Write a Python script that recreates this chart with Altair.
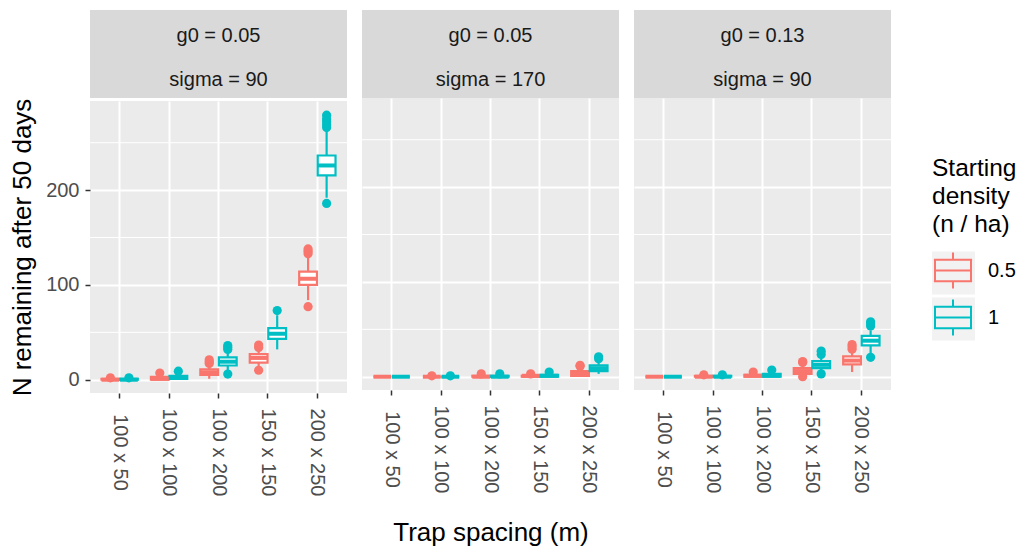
import altair as alt
import pandas as pd

FONT = "Liberation Sans"

SPACING = ["100 x 50", "100 x 100", "100 x 200", "150 x 150", "200 x 250"]
DENSITY = ["0.5", "1"]
G0_LABELS = ["g0 = 0.05", "g0 = 0.05", "g0 = 0.13"]
SIGMA_LABELS = ["sigma = 90", "sigma = 170", "sigma = 90"]
COLORS = ["#F8766D", "#00BFC4"]

Y_TICKS = [0, 100, 200]
Y_MINOR = [50, 150, 250]

# indexed [panel][density][spacing]
WHISKER_LO = [
    [[0, 0, 1, 14, 84], [0, 0, 9, 32, 192]],
    [[0, 0, 0, 0, 0], [0, 0, 0, 0, 3]],
    [[0, 0, 0, 1, 5], [0, 0, 0, 6, 25]],
]
Q1 = [
    [[0, 0, 5, 18, 100], [0, 1, 15, 43, 215.5]],
    [[0, 0, 0, 0, 1], [0, 0, 0, 0, 6]],
    [[0, 0, 0, 3, 13], [0, 0, 0, 9, 33]],
]
MEDIAN = [
    [[0, 1, 8, 23, 106.5], [0, 2, 19, 48.5, 226]],
    [[0, 0, 0, 1, 3], [0, 0, 0, 1, 9]],
    [[0, 0, 1, 6, 17], [0, 0, 1, 12.5, 38]],
]
Q3 = [
    [[1, 3, 11, 27, 114], [1, 4, 23.5, 54.5, 236.5]],
    [[0, 0, 1, 1, 6], [0, 0, 1, 2, 12]],
    [[0, 1, 2, 9, 21.5], [0, 1, 3, 16.5, 43]],
]
WHISKER_HI = [
    [[1, 5, 15, 32, 130], [1, 7, 30, 68, 263]],
    [[0, 0, 2, 2, 9], [0, 0, 2, 4, 16]],
    [[0, 1, 4, 13, 26], [0, 1, 5, 21, 49]],
]
OUTLIERS = [
    [[[2], [7], [17, 19, 21], [10, 34, 36.5], [77, 133, 135.5, 138]],
     [[2], [9], [6, 32, 34, 36], [73], [186, 266, 269, 272, 275, 279]]],
    [[[], [1], [3], [3], [11, 12]],
     [[], [1], [3], [5], [19, 21]]],
    [[[], [2], [5], [0, 15, 16], [29, 31.5, 34]],
     [[], [2], [7], [3, 23.5, 27], [20.5, 53.5, 56, 58]]],
]

stat_rows, out_rows = [], []
for p in range(3):
    for d, dens in enumerate(DENSITY):
        for s, sp in enumerate(SPACING):
            stat_rows.append(dict(panel=p, spacing=sp, density=dens,
                                  lo=WHISKER_LO[p][d][s], q1=Q1[p][d][s],
                                  med=MEDIAN[p][d][s], q3=Q3[p][d][s],
                                  hi=WHISKER_HI[p][d][s]))
            for v in OUTLIERS[p][d][s]:
                out_rows.append(dict(panel=p, spacing=sp, density=dens, value=v))
stats = pd.DataFrame(stat_rows)
outs = pd.DataFrame(out_rows)
minor = pd.DataFrame({"v": Y_MINOR})
KEY_DOMAIN = ["k" + d for d in DENSITY]
keys = pd.DataFrame({"key": KEY_DOMAIN})

W, H, STRIP_H = 257, 292, 88
STEP = W / 5.2
BOX_W = STEP * 0.36

XSCALE = alt.Scale(domain=SPACING, paddingInner=0, paddingOuter=0.1)
OFFSCALE = alt.Scale(domain=DENSITY, paddingInner=0.04, paddingOuter=0.353)
YSCALE = alt.Scale(domain=[-14, 294], nice=False, zero=False)
CSCALE = alt.Scale(domain=DENSITY, range=COLORS)

LEG_X, LEG_Y = 842, 147
LEG_TITLE = ["Starting", "density", "(n / ha)"]
LEG_COMMON = dict(title=LEG_TITLE, orient="none", legendX=LEG_X, legendY=LEG_Y,
                  titleFontSize=24.5, titleLineHeight=28, titleFont=FONT,
                  titleFontWeight="normal", titlePadding=14, labelFont=FONT,
                  rowPadding=3)

# legend glyph: box outline + median + whiskers, drawn as separate segments
e = 0.06
BOX_PATH = (f"M{-1 - e},-0.6H{1 + e} M1,-0.6V0.6 M{1 + e},0.6H{-1 - e} M-1,0.6V-0.6 "
            "M-1,0H1 M0,-0.6V-1 M0,0.6V1")
LEGEND = alt.Legend(symbolType=BOX_PATH, symbolSize=1296, symbolStrokeWidth=2,
                    symbolOffset=2, titleColor="black", labelColor="black",
                    labelFontSize=20, labelOffset=16, zindex=2, **LEG_COMMON)
KEY_LEGEND = alt.Legend(symbolType="square", symbolSize=1849, symbolStrokeWidth=0,
                        symbolFillColor="#F2F2F2", titleColor="transparent",
                        labelColor="transparent", labelFontSize=1, labelLimit=2,
                        labelOffset=1, zindex=1, **LEG_COMMON)


def panel(p):
    first = p == 0
    yaxis = alt.Axis(values=Y_TICKS, grid=True, gridColor="white", gridWidth=2,
                     labels=first, ticks=first, tickSize=5, tickWidth=1.5,
                     labelPadding=6, labelFontSize=20,
                     title="N remaining after 50 days" if first else None,
                     titleFontSize=26, titlePadding=10)
    xaxis = alt.Axis(labelAngle=90, labelAlign="center", labelBaseline="middle",
                     labelPadding=54, labelFontSize=20, tickSize=5, tickWidth=1.5,
                     grid=True, gridColor="white", gridWidth=2, bandPosition=0.5,
                     title="Trap spacing (m)" if p == 1 else None,
                     titleFontSize=26, titlePadding=27)

    def X():
        return alt.X("spacing:N", scale=XSCALE, axis=xaxis, sort=SPACING)

    def Y(f):
        return alt.Y(f, scale=YSCALE, axis=yaxis)

    XO = alt.XOffset("density:N", scale=OFFSCALE, sort=DENSITY)
    sdat = stats[stats.panel == p]
    odat = outs[outs.panel == p]

    grid = alt.Chart(minor).mark_rule(color="white", strokeWidth=1).encode(y=Y("v:Q"))
    whisk = alt.Chart(sdat).mark_rule(strokeWidth=2.2).encode(
        x=X(), xOffset=XO, y=Y("lo:Q"), y2="hi:Q",
        stroke=alt.Stroke("density:N", scale=CSCALE, legend=LEGEND))
    box = alt.Chart(sdat).mark_bar(fill="white", strokeWidth=2.2).encode(
        x=X(), xOffset=XO, y=Y("q1:Q"), y2="q3:Q",
        stroke=alt.Stroke("density:N", scale=CSCALE, legend=LEGEND))
    med = alt.Chart(sdat).mark_tick(thickness=4, size=BOX_W, opacity=1).encode(
        x=X(), xOffset=XO, y=Y("med:Q"),
        color=alt.Color("density:N", scale=CSCALE, legend=None))
    pts = alt.Chart(odat).mark_circle(size=85, opacity=1).encode(
        x=X(), xOffset=XO, y=Y("value:Q"),
        color=alt.Color("density:N", scale=CSCALE, legend=None))
    layers = [grid, whisk, box, med, pts]
    if first:
        # legend key background only (marks themselves are clipped away)
        keybg = alt.Chart(keys).mark_point(
            filled=True, color="#F2F2F2", clip=True, opacity=1, strokeWidth=0).encode(
            y=alt.value(-5000),
            shape=alt.Shape("key:N", scale=alt.Scale(domain=KEY_DOMAIN,
                                                     range=["square", "square"]),
                            legend=KEY_LEGEND))
        layers.append(keybg)
    plot = alt.layer(*layers).properties(width=W, height=H)

    strip_df = pd.DataFrame({"line": [G0_LABELS[p], SIGMA_LABELS[p]], "row": [0, 1]})
    strip = alt.Chart(strip_df).mark_text(
        fontSize=20, font=FONT, color="#1A1A1A", dy=4, baseline="middle").encode(
        y=alt.Y("row:O", axis=None, scale=alt.Scale(paddingInner=0, paddingOuter=0)),
        text="line:N").properties(
        width=W, height=STRIP_H, view=alt.ViewBackground(fill="#D9D9D9", stroke=None))
    return alt.vconcat(strip, plot, spacing=0)


chart = alt.hconcat(panel(0), panel(1), panel(2), spacing=13).resolve_scale(
    stroke="shared", color="shared").resolve_legend(stroke="shared").properties(
    padding={"top": 2, "left": 1, "right": 0, "bottom": 0}).configure_view(
    fill="#EBEBEB", stroke=None).configure_axis(
    labelFont=FONT, titleFont=FONT, labelColor="#4D4D4D", tickColor="#333333",
    titleColor="black", titleFontWeight="normal", domain=False)

chart.save("out.html", embed_options={"renderer": "svg", "actions": False})
